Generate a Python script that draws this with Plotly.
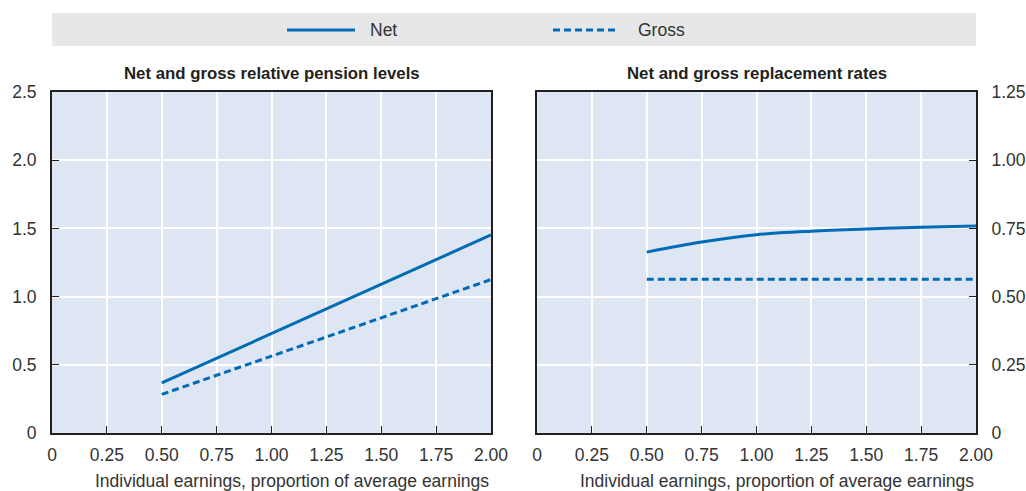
import plotly.graph_objects as go

# ---- data ----
earnings = [0.5, 0.75, 1.0, 1.25, 1.5, 1.75, 2.0]
net_level = [0.367, 0.548, 0.729, 0.910, 1.090, 1.271, 1.452]
gross_level = [0.283, 0.423, 0.564, 0.705, 0.846, 0.987, 1.125]
net_rr = [0.663, 0.700, 0.727, 0.740, 0.748, 0.754, 0.759]
gross_rr = [0.564, 0.564, 0.564, 0.564, 0.564, 0.564, 0.564]

x_ticks = [0, 0.25, 0.5, 0.75, 1.0, 1.25, 1.5, 1.75, 2.0]
x_ticktext = ["0", "0.25", "0.50", "0.75", "1.00", "1.25", "1.50", "1.75", "2.00"]
y1_ticks = [0, 0.5, 1.0, 1.5, 2.0, 2.5]
y1_ticktext = ["0", "0.5", "1.0", "1.5", "2.0", "2.5"]
y2_ticks = [0, 0.25, 0.5, 0.75, 1.0, 1.25]
y2_ticktext = ["0", "0.25", "0.50", "0.75", "1.00", "1.25"]

titles = ["Net and gross relative pension levels", "Net and gross replacement rates"]
x_title = "Individual earnings, proportion of average earnings"
series_names = ["Net", "Gross"]

BLUE = "#006BB6"
DARK = "#231F20"
TXT = "#333333"
BG = "#DFE6F3"
FONT = "Liberation Sans Narrow, Arial Narrow, Liberation Sans, sans-serif"
FS = 17.5

fig = go.Figure()
fig.add_trace(go.Scatter(x=earnings, y=net_level, mode="lines", name=series_names[0],
                         line=dict(color=BLUE, width=3), xaxis="x", yaxis="y", showlegend=False))
fig.add_trace(go.Scatter(x=earnings, y=gross_level, mode="lines", name=series_names[1],
                         line=dict(color=BLUE, width=3, dash="7px,4px"), xaxis="x", yaxis="y", showlegend=False))
fig.add_trace(go.Scatter(x=earnings, y=net_rr, mode="lines", name=series_names[0], line_shape="spline",
                         line=dict(color=BLUE, width=3), xaxis="x2", yaxis="y2", showlegend=False))
fig.add_trace(go.Scatter(x=earnings, y=gross_rr, mode="lines", name=series_names[1],
                         line=dict(color=BLUE, width=3, dash="7px,4px"), xaxis="x2", yaxis="y2", showlegend=False))

W, H = 1026, 491
L, R, T, B = 52, 50, 92, 58
pw = W - L - R
ph = H - T - B
d1 = [0, (491 - L) / pw]
d2 = [(537 - L) / pw, 1]

xcommon = dict(range=[0, 2.0], tickvals=x_ticks, ticktext=x_ticktext, showgrid=True,
               gridcolor="white", gridwidth=2, ticks="inside", ticklen=7, tickcolor=DARK,
               tickwidth=1, showline=True, linecolor=DARK, linewidth=2, mirror=True,
               zeroline=False, tickfont=dict(size=FS, color=TXT, family=FONT), automargin=False,
               ticklabelstandoff=5, fixedrange=True)
ycommon = dict(showgrid=True, gridcolor="white", gridwidth=2, ticks="inside", ticklen=7,
               tickcolor=DARK, tickwidth=1, showline=True, linecolor=DARK, linewidth=2, mirror=True,
               zeroline=False, tickfont=dict(size=FS, color=TXT, family=FONT), automargin=False,
               fixedrange=True)

fig.update_layout(
    width=W, height=H,
    margin=dict(l=L, r=R, t=T, b=B, autoexpand=False),
    paper_bgcolor="white", plot_bgcolor=BG,
    font=dict(family=FONT, color=TXT),
    xaxis=dict(domain=d1, anchor="y", **xcommon),
    yaxis=dict(domain=[0, 1], anchor="x", range=[0, 2.5], tickvals=y1_ticks, ticktext=y1_ticktext,
               ticklabelstandoff=10, **ycommon),
    xaxis2=dict(domain=d2, anchor="y2", **xcommon),
    yaxis2=dict(domain=[0, 1], anchor="x2", side="right", range=[0, 1.25], tickvals=y2_ticks,
                ticktext=y2_ticktext, ticklabelstandoff=10, **ycommon),
)

def px(x):
    return (x - L) / pw
def py(y):
    return 1 + (T - y) / ph

# subplot titles and x-axis titles (right-aligned to the plot edge, as in the original)
for i, t in enumerate(titles):
    dom = d1 if i == 0 else d2
    fig.add_annotation(text="<b>" + t + "</b>", x=(dom[0] + dom[1]) / 2, y=1, xref="paper", yref="paper",
                       xanchor="center", yanchor="bottom", yshift=7, showarrow=False,
                       font=dict(size=16.8, color=DARK, family=FONT))
    fig.add_annotation(text=x_title, x=dom[1], y=py(481), xref="paper", yref="paper",
                       xanchor="right", yanchor="middle", showarrow=False,
                       font=dict(size=FS, color=TXT, family=FONT))

# legend box (manual)
fig.add_shape(type="rect", xref="paper", yref="paper", x0=0, x1=1, y0=py(46), y1=py(13),
              fillcolor="#E6E7E8", line=dict(width=0), layer="below")
ly = py(30)
fig.add_shape(type="line", xref="paper", yref="paper", x0=px(287), x1=px(355), y0=ly, y1=ly,
              line=dict(color=BLUE, width=3))
fig.add_shape(type="line", xref="paper", yref="paper", x0=px(553), x1=px(617), y0=ly, y1=ly,
              line=dict(color=BLUE, width=3, dash="7px,4px"))
fig.add_annotation(text=series_names[0], x=px(368), y=ly, xref="paper", yref="paper", xanchor="left",
                   yanchor="middle", showarrow=False, font=dict(size=FS, color=TXT, family=FONT))
fig.add_annotation(text=series_names[1], x=px(636), y=ly, xref="paper", yref="paper", xanchor="left",
                   yanchor="middle", showarrow=False, font=dict(size=FS, color=TXT, family=FONT))

fig.write_html("out.html", config={"displayModeBar": False},
               post_script="document.body.style.margin='0';document.body.style.overflow='hidden';")
